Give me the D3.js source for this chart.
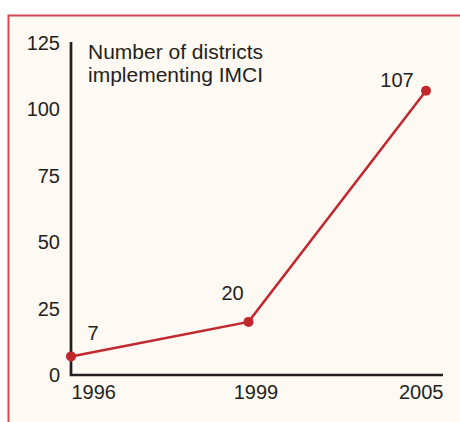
<!DOCTYPE html>
<html>
<head>
<meta charset="utf-8">
<script src="https://cdn.jsdelivr.net/npm/d3@7"></script>
<style>
  body { margin: 0; background: #fff; }
  svg { display: block; font-family: "Liberation Sans", Arial, sans-serif; }
</style>
</head>
<body>
<div class="chart"></div>
<script>
// data
var years = ["1996", "1999", "2005"];
var districts = [7, 20, 107];
var yTicks = [0, 25, 50, 75, 100, 125];
var titleLines = ["Number of districts", "implementing IMCI"];

function wrapper(){

var w = 460, h = 422;
var ink = "#231f20", red = "#c1272d";

var svg = d3.select("div.chart")
            .append("svg")
            .attr("width", w)
            .attr("height", h);

//panel background with red top and left rule
svg.append("rect")
   .attr("x", 8).attr("y", 15)
   .attr("width", w - 8).attr("height", h - 15)
   .attr("fill", "#fef9f2");
svg.append("path")
   .attr("d", "M8.5," + h + "V15.5H" + w)
   .attr("fill", "none")
   .attr("stroke", "#cf4a52")
   .attr("stroke-width", 2);

//scales
var x = d3.scalePoint()
          .domain(years)
          .range([71, 426]);

var y = d3.scaleLinear()
          .domain([0, 125])
          .range([375, 43]);

//y axis: labels only, plain line
var yAxis = d3.axisLeft(y)
              .tickValues(yTicks)
              .tickSize(0)
              .tickPadding(11);

var gy = svg.append("g")
            .attr("transform", "translate(71,0)")
            .call(yAxis);
gy.select(".domain").remove();
gy.selectAll("text")
  .attr("font-size", 20)
  .attr("fill", ink)
  .attr("font-family", "Liberation Sans, Arial, sans-serif");

var xAxis = d3.axisBottom(x)
              .tickSize(0)
              .tickPadding(10);

var gx = svg.append("g")
            .attr("transform", "translate(0,375)")
            .call(xAxis);
gx.select(".domain").remove();
gx.selectAll("text")
  .attr("font-size", 20)
  .attr("fill", ink)
  .attr("font-family", "Liberation Sans, Arial, sans-serif")
  .attr("text-anchor", function(d, i){
      return i == 0 ? "start" : (i == years.length - 1 ? "end" : "middle");
  })
  .attr("dx", function(d, i){
      return i == years.length - 1 ? 17 : (i == 1 ? 7 : 0);
  });

//axis lines
svg.append("path")
   .attr("d", "M71," + (y(125) - 1) + "V" + y(0) + "H443")
   .attr("fill", "none")
   .attr("stroke", ink)
   .attr("stroke-width", 2.7);

//title inside the plot
svg.append("text")
   .attr("x", 88)
   .attr("y", 59)
   .attr("font-size", 21)
   .attr("fill", ink)
   .selectAll("tspan")
   .data(titleLines)
   .enter()
   .append("tspan")
      .attr("x", 88)
      .attr("dy", function(d, i){ return i ? 23 : 0; })
      .text(function(d){ return d; });

//line and points
var pts = years.map(function(d, i){ return {year: d, value: districts[i]}; });

var line = d3.line()
             .x(function(d){ return x(d.year); })
             .y(function(d){ return y(d.value); });

svg.append("path")
   .datum(pts)
   .attr("d", line)
   .attr("fill", "none")
   .attr("stroke", red)
   .attr("stroke-width", 2.5);

svg.selectAll(".dot")
   .data(pts)
   .enter()
   .append("circle")
      .attr("class", "dot")
      .attr("cx", function(d){ return x(d.year); })
      .attr("cy", function(d){ return y(d.value); })
      .attr("r", 5)
      .attr("fill", red);

//value labels
var labelOffset = [[22, -16], [-16, -22], [-29, -4]];

svg.selectAll(".val")
   .data(pts)
   .enter()
   .append("text")
      .attr("class", "val")
      .attr("x", function(d, i){ return x(d.year) + labelOffset[i][0]; })
      .attr("y", function(d, i){ return y(d.value) + labelOffset[i][1]; })
      .attr("text-anchor", "middle")
      .attr("font-size", 20)
      .attr("fill", ink)
      .text(function(d){ return d.value; });

}
window.onload = wrapper;
</script>
</body>
</html>
